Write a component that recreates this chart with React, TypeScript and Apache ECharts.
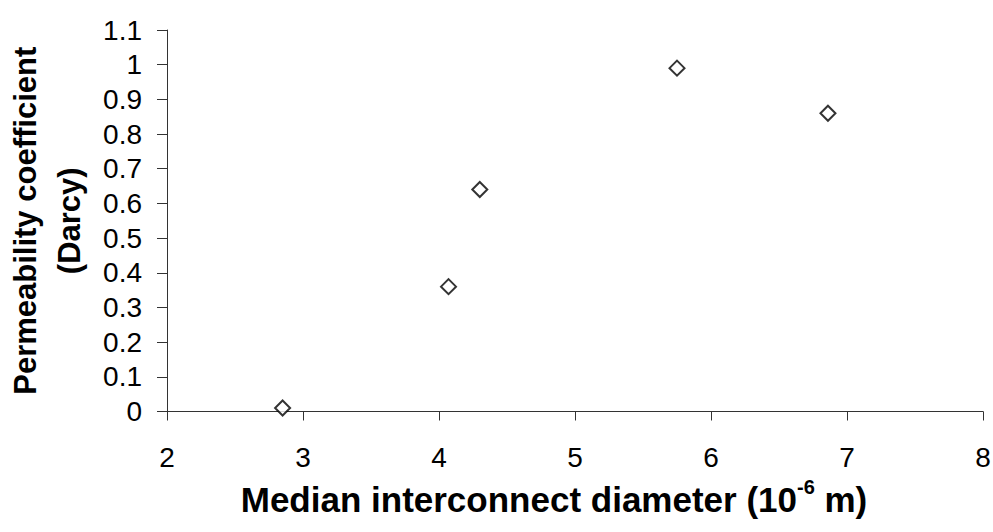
import React, { useEffect, useRef } from "react";
import * as echarts from "echarts";

const diameters = [2.85, 4.07, 4.3, 5.75, 6.86];
const permeability = [0.01, 0.36, 0.64, 0.99, 0.86];
const xTitle = "Median interconnect diameter (10";
const xTitleSup = "-6";
const xTitleEnd = " m)";
const yTitleLines = ["Permeability coefficient", "(Darcy)"];

export default function App() {
  const ref = useRef<HTMLDivElement>(null);
  useEffect(() => {
    if (!ref.current) return;
    const chart = echarts.init(ref.current, undefined, { renderer: "svg" });
    const font = "Arial, 'Liberation Sans', sans-serif";
    chart.setOption({
      animation: false,
      backgroundColor: "#ffffff",
      grid: { left: 167, right: 10, top: 30, bottom: 120.5, containLabel: false, outerBoundsMode: "none" },
      xAxis: {
        type: "value",
        min: 2,
        max: 8,
        interval: 1,
        splitLine: { show: false },
        axisLine: { onZero: false, lineStyle: { color: "#333", width: 1 } },
        axisTick: { show: true, inside: false, length: 9, lineStyle: { color: "#333" } },
        axisLabel: { color: "#000", fontSize: 28, fontFamily: font, margin: 32 },
        name: `{a|${xTitle}}{s|${xTitleSup}}{a|${xTitleEnd}}`,
        nameLocation: "middle",
        nameGap: 65,
        nameTextStyle: {
          padding: [0, 42, 0, 0],
          rich: {
            a: { fontSize: 35, fontWeight: "bold", fontFamily: font, color: "#000", verticalAlign: "bottom", lineHeight: 40 },
            s: { fontSize: 20, fontWeight: "bold", fontFamily: font, color: "#000", verticalAlign: "top", lineHeight: 40, padding: [0, 0, 16, 0] },
          },
        },
      },
      yAxis: {
        type: "value",
        min: 0,
        max: 1.1,
        interval: 0.1,
        splitLine: { show: false },
        axisLine: { show: true, lineStyle: { color: "#333", width: 1 } },
        axisTick: { show: true, inside: false, length: 10, lineStyle: { color: "#333" } },
        axisLabel: {
          color: "#000",
          fontSize: 28,
          fontFamily: font,
          margin: 25,
          formatter: (v: number) => String(Math.round(v * 10) / 10),
        },
        name: yTitleLines.join("\n"),
        nameLocation: "middle",
        nameRotate: 90,
        nameGap: 76,
        nameTextStyle: { fontSize: 31, fontWeight: "bold", fontFamily: font, color: "#000", lineHeight: 44 },
      },
      series: [
        {
          type: "scatter",
          data: diameters.map((d, i) => [d, permeability[i]]),
          symbol: "diamond",
          symbolSize: [15, 15],
          itemStyle: { color: "#ffffff", borderColor: "#000", borderWidth: 2 },
        },
      ],
    });
    return () => chart.dispose();
  }, []);
  return <div ref={ref} style={{ width: 993, height: 532, position: "absolute", left: 0, top: 0 }} />;
}
